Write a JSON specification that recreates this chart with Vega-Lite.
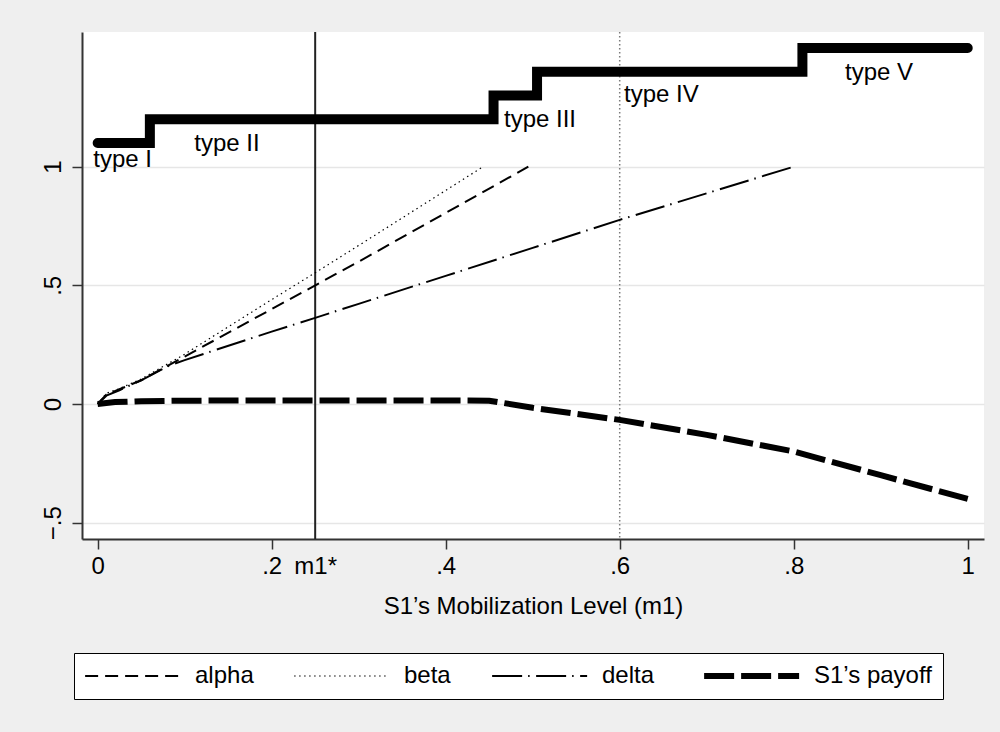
{
  "$schema": "https://vega.github.io/schema/vega-lite/v6.json",
  "width": 902,
  "height": 507,
  "autosize": {"type": "none"},
  "padding": {"left": 82, "top": 32, "right": 16, "bottom": 193},
  "background": "#efefef",
  "config": {
    "view": {"fill": "white", "stroke": null},
    "font": "Liberation Sans",
    "text": {"font": "Liberation Sans"}
  },
  "datasets": {
    "steps": [
      {"m": 0, "v": 1.1},
      {"m": 0.06, "v": 1.2},
      {"m": 0.455, "v": 1.3},
      {"m": 0.505, "v": 1.4},
      {"m": 0.81, "v": 1.5},
      {"m": 1, "v": 1.5}
    ],
    "curves": [
      {"series": "alpha", "m": 0, "v": 0},
      {"series": "alpha", "m": 0.01, "v": 0.04},
      {"series": "alpha", "m": 0.025, "v": 0.062},
      {"series": "alpha", "m": 0.05, "v": 0.1},
      {"series": "alpha", "m": 0.1, "v": 0.2},
      {"series": "alpha", "m": 0.2, "v": 0.4},
      {"series": "alpha", "m": 0.3, "v": 0.6},
      {"series": "alpha", "m": 0.4, "v": 0.805},
      {"series": "alpha", "m": 0.495, "v": 1.0},
      {"series": "beta", "m": 0, "v": 0},
      {"series": "beta", "m": 0.01, "v": 0.045},
      {"series": "beta", "m": 0.025, "v": 0.065},
      {"series": "beta", "m": 0.05, "v": 0.105},
      {"series": "beta", "m": 0.1, "v": 0.21},
      {"series": "beta", "m": 0.2, "v": 0.44},
      {"series": "beta", "m": 0.25, "v": 0.553},
      {"series": "beta", "m": 0.3, "v": 0.668},
      {"series": "beta", "m": 0.4, "v": 0.9},
      {"series": "beta", "m": 0.443, "v": 1.0},
      {"series": "delta", "m": 0, "v": 0},
      {"series": "delta", "m": 0.01, "v": 0.035},
      {"series": "delta", "m": 0.025, "v": 0.058},
      {"series": "delta", "m": 0.05, "v": 0.1},
      {"series": "delta", "m": 0.083, "v": 0.163},
      {"series": "delta", "m": 0.1, "v": 0.185},
      {"series": "delta", "m": 0.2, "v": 0.305},
      {"series": "delta", "m": 0.25, "v": 0.363},
      {"series": "delta", "m": 0.3, "v": 0.422},
      {"series": "delta", "m": 0.4, "v": 0.54},
      {"series": "delta", "m": 0.5, "v": 0.658},
      {"series": "delta", "m": 0.6, "v": 0.776},
      {"series": "delta", "m": 0.7, "v": 0.888},
      {"series": "delta", "m": 0.8, "v": 1.0},
      {"series": "S1’s payoff", "m": 0, "v": 0},
      {"series": "S1’s payoff", "m": 0.02, "v": 0.008},
      {"series": "S1’s payoff", "m": 0.05, "v": 0.012},
      {"series": "S1’s payoff", "m": 0.1, "v": 0.014},
      {"series": "S1’s payoff", "m": 0.2, "v": 0.015},
      {"series": "S1’s payoff", "m": 0.3, "v": 0.015},
      {"series": "S1’s payoff", "m": 0.4, "v": 0.015},
      {"series": "S1’s payoff", "m": 0.45, "v": 0.014},
      {"series": "S1’s payoff", "m": 0.5, "v": -0.016},
      {"series": "S1’s payoff", "m": 0.6, "v": -0.067},
      {"series": "S1’s payoff", "m": 0.7, "v": -0.13},
      {"series": "S1’s payoff", "m": 0.8, "v": -0.2},
      {"series": "S1’s payoff", "m": 0.9, "v": -0.3},
      {"series": "S1’s payoff", "m": 1.0, "v": -0.4}
    ],
    "labels": [
      {"label": "type I", "m": -0.005, "v": 1.03},
      {"label": "type II", "m": 0.111, "v": 1.097},
      {"label": "type III", "m": 0.467, "v": 1.197},
      {"label": "type IV", "m": 0.605, "v": 1.302},
      {"label": "type V", "m": 0.859, "v": 1.395}
    ]
  },
  "encoding": {
    "x": {
      "field": "m",
      "type": "quantitative",
      "scale": {"domain": [-0.018, 1.0187], "nice": false, "zero": false},
      "axis": {
        "values": [0, 0.2, 0.25, 0.4, 0.6, 0.8, 1],
        "labelExpr": "datum.value == 0 ? '0' : datum.value == 1 ? '1' : datum.value == 0.25 ? 'm1*' : '.' + format(datum.value * 10, 'd')",
        "title": "S1’s Mobilization Level (m1)",
        "grid": false,
        "tickSize": 10,
        "tickWidth": 1.5,
        "tickColor": "#333333",
        "tickOpacity": {"condition": {"test": "datum.value == 0.25", "value": 0}, "value": 1},
        "domainColor": "#333333",
        "domainWidth": 2,
        "labelFont": "Liberation Sans",
        "labelFontSize": 24,
        "labelColor": "#000000",
        "labelPadding": 5,
        "labelOverlap": false,
        "labelFlush": false,
        "labelBound": false,
        "titleFont": "Liberation Sans",
        "titleFontSize": 24,
        "titleFontWeight": "normal",
        "titleColor": "#000000",
        "titlePadding": 16
      }
    }
  },
  "layer": [
    {
      "data": {"name": "dummyY", "values": [{"m": 0, "v": 0}]},
      "mark": {"type": "point", "opacity": 0},
      "encoding": {
        "y": {
          "field": "v",
          "type": "quantitative",
          "scale": {"domain": [-0.5689, 1.5676], "nice": false, "zero": false},
          "axis": {
            "values": [-0.5, 0, 0.5, 1],
            "labelExpr": "datum.value == -0.5 ? '−.5' : datum.value == 0.5 ? '.5' : datum.value == 0 ? '0' : '1'",
            "title": null,
            "grid": true,
            "gridColor": "#e6e6e6",
            "gridWidth": 1.5,
            "tickSize": 10,
            "tickWidth": 1.5,
            "tickColor": "#333333",
            "domainColor": "#333333",
            "domainWidth": 2,
            "labelAngle": -90,
            "labelAlign": "center",
            "labelBaseline": "bottom",
            "labelFont": "Liberation Sans",
            "labelFontSize": 24,
            "labelColor": "#000000",
            "labelPadding": 7,
            "labelOverlap": false,
            "labelFlush": false,
            "labelBound": false
          }
        }
      }
    },
    {
      "data": {"values": [{"m": 0.25}]},
      "mark": {"type": "rule", "color": "#222222", "strokeWidth": 2},
      "encoding": {}
    },
    {
      "data": {"values": [{"m": 0.6}]},
      "mark": {"type": "rule", "color": "#7a7a7a", "strokeWidth": 1.5, "strokeDash": [1.5, 2.5]},
      "encoding": {}
    },
    {
      "data": {"name": "steps"},
      "mark": {"type": "line", "interpolate": "step-after", "color": "#000000", "strokeWidth": 10, "strokeCap": "round", "strokeJoin": "miter"},
      "encoding": {
        "y": {"field": "v", "type": "quantitative"}
      }
    },
    {
      "data": {"name": "curves"},
      "mark": {"type": "line", "color": "#000000"},
      "encoding": {
        "y": {"field": "v", "type": "quantitative"},
        "strokeDash": {
          "field": "series",
          "type": "nominal",
          "scale": {
            "domain": ["alpha", "beta", "delta", "S1’s payoff"],
            "range": [[13, 7], [1.5, 3.5], [30, 6, 1.5, 6.5], [30, 7]]
          },
          "legend": {
            "title": null,
            "orient": "none",
            "legendX": -8,
            "legendY": 621,
            "direction": "horizontal",
            "columns": 4,
            "symbolType": "M-1,0H7",
            "symbolSize": 564,
            "symbolStrokeColor": "#000000",
            "symbolFillColor": "transparent",
            "labelFont": "Liberation Sans",
            "labelFontSize": 24,
            "labelColor": "#000000",
            "labelOffset": 86,
            "columnPadding": 37,
            "padding": 11,
            "strokeColor": "#000000",
            "fillColor": "#ffffff",
            "labelLimit": 300,
            "encode": {
              "symbols": {
                "update": {
                  "strokeWidth": {"signal": "datum.value === 'S1’s payoff' ? 6 : datum.value === 'beta' ? 1.2 : 2"}
                }
              }
            }
          }
        },
        "strokeWidth": {
          "condition": [
            {"test": "datum.series === 'S1’s payoff'", "value": 6},
            {"test": "datum.series === 'beta'", "value": 1.2}
          ],
          "value": 2
        }
      }
    },
    {
      "data": {"name": "labels"},
      "mark": {"type": "text", "align": "left", "baseline": "middle", "fontSize": 24, "font": "Liberation Sans", "color": "#000000"},
      "encoding": {
        "y": {"field": "v", "type": "quantitative"},
        "text": {"field": "label"}
      }
    }
  ]
}
